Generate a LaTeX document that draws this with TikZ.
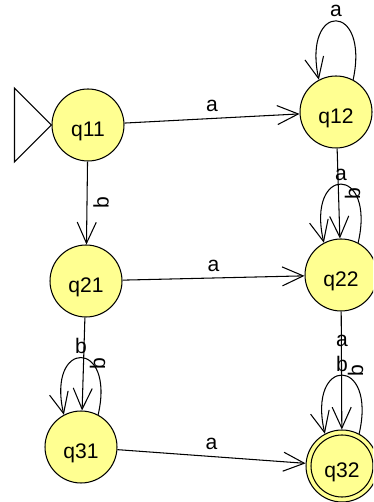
\documentclass[tikz,border=0pt]{standalone}
\usepackage{fontspec}
\setmainfont{Liberation Sans}
\usepackage{xcolor}
\usepackage{tikz}
\usetikzlibrary{arrows.meta}
\definecolor{stateyellow}{RGB}{255,255,145}

\begin{document}
\begin{tikzpicture}[x=0.02cm, y=0.02cm, line width=0.6pt,
  >={Straight Barb[length=4.2mm, width=3.8mm]},
  state/.style={circle, draw, fill=stateyellow, minimum size=1.44cm, inner sep=0pt,
    text height=15pt, text depth=2pt, font=\fontsize{12}{14}\selectfont},
  lab/.style={font=\fontsize{12}{14}\selectfont},
  looplab/.style={lab, above, inner sep=2pt}]
\clip (0,0) rectangle (373,502);
% States, one row per number of b's
\node[state] (q11) at (88,377) {q11};
\node[state] (q12) at (336,390) {q12};
\node[state] (q21) at (86,221) {q21};
\node[state] (q22) at (341,227) {q22};
\node[state] (q31) at (81,55) {q31};
\node[state] (q32) at (342,36) {q32};
\draw (q32) circle (31);
% Start marker
\draw (q11.west) -- ++(-37,37) -- ++(0,-74) -- cycle;
% a-transitions to the right
\draw[->] (q11) -- node[lab, above] {a} (q12);
\draw[->] (q21) -- node[lab, above] {a} (q22);
\draw[->] (q31) -- node[lab, above] {a} (q32);
% b-transitions downwards
\draw[->] (q11) -- node[lab, rotate=90, anchor=north] {b} (q21);
\draw[->] (q21) -- node[lab, rotate=90, anchor=north] {b} (q31);
\draw[->] (q12) -- node[lab, rotate=90, anchor=north] {b} (q22);
\draw[->] (q22) -- node[lab, rotate=90, anchor=north] {b} (q32);
% Self-loops
\draw[->] (q12.62) .. controls +(78:80) and +(102:80) .. node[looplab] {a} (q12.118);
\draw[->] (q22.62) .. controls +(77:80) and +(103:80) .. node[looplab] {a} (q22.118);
\draw[->] (q31.62) .. controls +(77:78) and +(103:78) .. node[looplab] {b} (q31.118);
\draw[->] (q32.62) .. controls +(77:80) and +(103:80) .. node[looplab, align=center] {a\\b} (q32.118);
\end{tikzpicture}
\end{document}
